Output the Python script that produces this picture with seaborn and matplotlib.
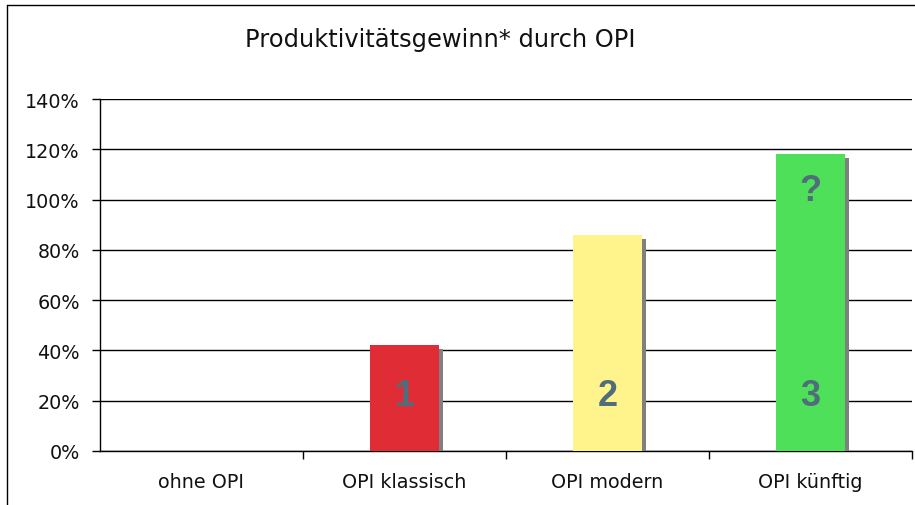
import matplotlib
matplotlib.use("Agg")
import matplotlib.pyplot as plt
import matplotlib.patheffects as pe
from matplotlib.lines import Line2D
from matplotlib.ticker import FuncFormatter, FixedLocator
import seaborn as sns
import pandas as pd

categories = ["ohne OPI", "OPI klassisch", "OPI modern", "OPI künftig"]
values = [0, 42, 86, 118]
bar_colors = ["#ffffff", "#e02d35", "#fff38c", "#4fe05a"]
bar_numbers = ["", "1", "2", "3"]
y_ticks = [0, 20, 40, 60, 80, 100, 120, 140]
title = "Produktivitätsgewinn* durch OPI"

sns.set_theme(style="white")
plt.rcParams["font.family"] = ["DejaVu Sans"]

fig = plt.figure(figsize=(9.15, 5.06), dpi=100)
ax = fig.add_axes([100/915, 1-452/506, 812/915, 352/506])

df = pd.DataFrame({"cat": categories, "val": values})
sns.barplot(data=df, x="cat", y="val", hue="cat", palette=bar_colors,
            width=0.34, legend=False, ax=ax, saturation=1, zorder=3)

for p, v in zip(ax.patches, values):
    p.set_linewidth(0)
    if v > 0:
        p.set_path_effects([pe.SimplePatchShadow(offset=(2.9, -2.9), shadow_rgbFace="#808080", alpha=1.0),
                            pe.Normal()])

lab_color = "#4f6d7a"
for i, (num, v) in enumerate(zip(bar_numbers, values)):
    if num:
        ax.text(i, 22.0, num, ha="center", va="center", fontsize=26, fontweight="bold",
                color=lab_color, family="Liberation Sans", zorder=5)
ax.text(3, 103.5, "?", ha="center", va="center", fontsize=26, fontweight="bold",
        color=lab_color, family="Liberation Sans", zorder=5)

ax.set_xlim(-0.5, len(categories) - 0.5)
ax.set_ylim(0, 140)
ax.yaxis.set_major_locator(FixedLocator(y_ticks))
ax.yaxis.set_major_formatter(FuncFormatter(lambda v, _: f"{int(v)}%"))
ax.yaxis.grid(True, color="black", linewidth=1.0, zorder=0)
ax.set_axisbelow(True)

ax.set_xticks([i + 0.5 for i in range(len(categories))])
ax.set_xticklabels([])
ax.set_xticks(range(len(categories)), minor=True)
ax.set_xticklabels(categories, minor=True)
ax.tick_params(axis="x", which="major", direction="out", length=6, width=1, color="black", bottom=True)
ax.tick_params(axis="x", which="minor", length=0, pad=15, labelsize=13.8, labelcolor="#111111")
ax.tick_params(axis="y", direction="out", length=6, width=1, color="black", left=True, pad=8.6,
               labelsize=13.8, labelcolor="#111111")
ax.set_xlabel("")
ax.set_ylabel("")
for s in ["top", "right"]:
    ax.spines[s].set_visible(False)
for s in ["left", "bottom"]:
    ax.spines[s].set_color("black")
    ax.spines[s].set_linewidth(1.0)

fig.text(440/915, 1-40/506, title, ha="center", va="center", fontsize=17.4, color="#111111")

fig.add_artist(Line2D([6.5/915, 6.5/915], [0, 1-5.5/506], color="black", linewidth=1.0, transform=fig.transFigure))
fig.add_artist(Line2D([6.5/915, 1], [1-5.5/506, 1-5.5/506], color="black", linewidth=1.0, transform=fig.transFigure))

fig.savefig("out.png", dpi=100, facecolor="white")
